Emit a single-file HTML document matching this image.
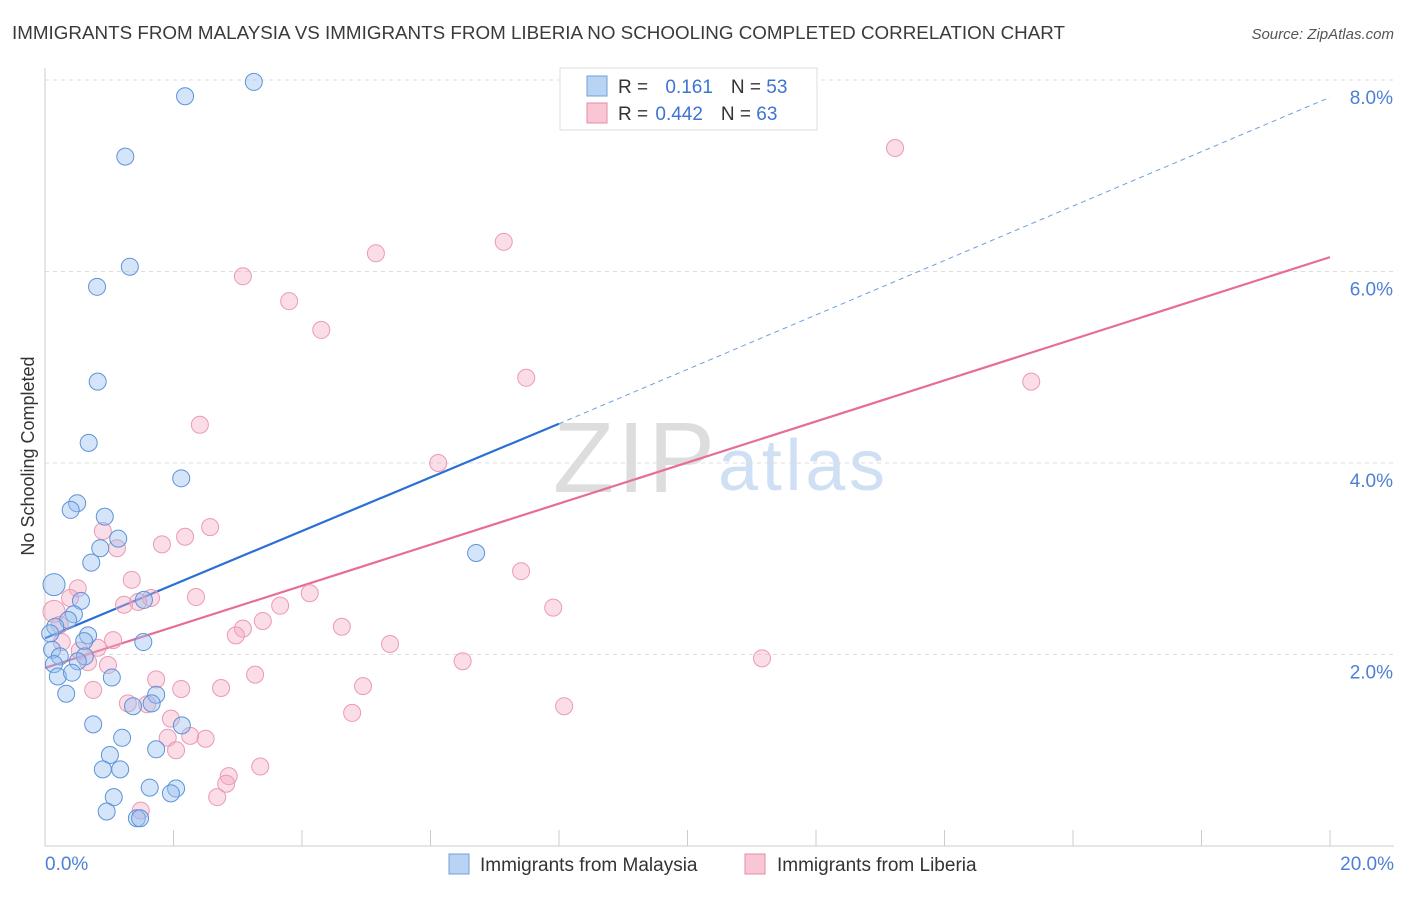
<!DOCTYPE html>
<html><head><meta charset="utf-8"><style>
body{margin:0;background:#fff;font-family:"Liberation Sans",sans-serif;}
svg text{font-family:"Liberation Sans",sans-serif;}
</style></head><body>
<svg id="chart" width="1406" height="892">
<text x="12" y="39" font-size="18" fill="#3a3a3a" textLength="1053" lengthAdjust="spacingAndGlyphs">IMMIGRANTS FROM MALAYSIA VS IMMIGRANTS FROM LIBERIA NO SCHOOLING COMPLETED CORRELATION CHART</text>
<text x="1394" y="39" font-size="15" fill="#555" font-style="italic" text-anchor="end">Source: ZipAtlas.com</text>
<text x="34" y="456" font-size="18" fill="#333" text-anchor="middle" transform="rotate(-90 34 456)">No Schooling Completed</text>
<text x="553" y="492" font-size="100" fill="#ddd" font-family="Liberation Serif" textLength="162">ZIP</text>
<text x="718" y="490" font-size="72" fill="#cfe0f4" textLength="167">atlas</text>
<g id="grid"></g><g id="lines"></g><g id="pts"></g>
<g>
<rect x="560" y="68" width="257" height="62" fill="#fff" stroke="#ddd"/>
<rect x="587" y="76" width="20" height="20" fill="#b8d3f3" stroke="#6fa0dc"/>
<rect x="587" y="103" width="20" height="20" fill="#f8c6d5" stroke="#e88aa6"/>
<text x="618" y="93" font-size="19" fill="#333">R = <tspan fill="#3c74d4" dx="12">0.161</tspan><tspan dx="18" fill="#333">N = </tspan><tspan fill="#3c74d4">53</tspan></text>
<text x="618" y="120" font-size="19" fill="#333">R = <tspan fill="#3c74d4" dx="2">0.442</tspan><tspan dx="18" fill="#333">N = </tspan><tspan fill="#3c74d4">63</tspan></text>
</g>
<g>
<rect x="449" y="854" width="20" height="20" fill="#b8d3f3" stroke="#6fa0dc"/>
<text x="480" y="871" font-size="19" fill="#333">Immigrants from Malaysia</text>
<rect x="745" y="854" width="20" height="20" fill="#f8c6d5" stroke="#e88aa6"/>
<text x="777" y="871" font-size="19" fill="#333">Immigrants from Liberia</text>
</g>
</svg>
<script>
const yTicks=[2,4,6,8];
const xTickLabels=["0.0%","20.0%"];
const blueX=[3.25,2.18,1.25,1.32,0.81,0.82,0.68,2.12,0.50,0.40,0.93,1.14,0.86,0.72,6.71,0.14,0.56,1.54,0.45,0.36,0.16,0.08,0.67,0.61,1.53,0.11,0.23,0.62,0.51,0.14,0.20,0.42,1.04,0.33,1.73,1.66,1.37,0.75,2.13,1.20,1.01,1.73,0.90,1.17,1.63,2.04,1.96,1.07,0.96,1.43,1.48];
const blueY=[7.98,7.83,7.20,6.05,5.84,4.85,4.21,3.84,3.58,3.51,3.44,3.21,3.11,2.96,3.06,2.73,2.56,2.57,2.42,2.36,2.29,2.22,2.20,2.14,2.13,2.05,1.98,1.98,1.93,1.90,1.77,1.81,1.76,1.59,1.58,1.49,1.46,1.27,1.26,1.13,0.95,1.01,0.80,0.80,0.61,0.60,0.55,0.51,0.36,0.29,0.29];
const pinkX=[13.23,7.14,5.15,3.08,3.80,4.30,15.35,7.49,2.41,6.12,2.57,0.90,2.18,1.82,1.12,7.41,1.35,0.51,2.35,4.12,7.91,1.65,1.23,1.45,3.66,0.39,0.14,3.39,4.62,3.08,2.97,1.06,5.37,0.54,0.82,0.26,6.50,11.16,0.67,0.98,3.27,1.73,0.75,2.12,2.74,4.95,1.29,1.59,8.08,4.78,1.96,1.91,2.26,2.50,2.04,3.35,2.86,2.82,2.68,1.49,0.23];
const pinkY=[7.29,6.31,6.19,5.95,5.69,5.39,4.85,4.89,4.40,4.00,3.33,3.29,3.23,3.15,3.11,2.87,2.78,2.69,2.60,2.64,2.49,2.59,2.52,2.55,2.51,2.59,2.45,2.35,2.29,2.27,2.20,2.15,2.11,2.04,2.07,2.13,1.93,1.96,1.92,1.89,1.79,1.74,1.63,1.64,1.65,1.67,1.49,1.48,1.46,1.39,1.33,1.13,1.15,1.12,1.00,0.83,0.73,0.65,0.51,0.37,2.31];
const blueLine=[2.17,4.41,7.82]; // at x=0, x=8, x=20
const pinkLine=[1.86,6.15]; // at x=0, x=20
const NS="http://www.w3.org/2000/svg";
const X=v=>45+v*64.25, Y=v=>846-v*95.75;
function mk(t,a,p){const e=document.createElementNS(NS,t);for(const k in a)e.setAttribute(k,a[k]);p.appendChild(e);return e;}
const g=document.getElementById('grid');
const ax=mk('line',{x1:45,y1:68,x2:45,y2:846,stroke:'#ccc'},g);


const bx=mk('line',{x1:45,y1:846,x2:1394,y2:846,stroke:'#ccc'},g);


yTicks.forEach(t=>{
 const l=mk('line',{x1:45,x2:1394,y1:Y(t),y2:Y(t),stroke:'#ddd','stroke-dasharray':'4 4'},g);
 
 
 const tx=mk('text',{x:1393,y:Y(t)+24,'font-size':19,fill:'#4d7fd6','text-anchor':'end'},g);
 tx.textContent=t.toFixed(1)+'%';
 
 
});
for(let i=0;i<=10;i++){
 const l=mk('line',{x1:X(i*2),x2:X(i*2),y1:830,y2:846,stroke:'#ccc'},g);
 
 
}
[[0,'start',45],[20,'end',1394]].forEach((d,i)=>{
 const tx=mk('text',{x:d[2],y:870,'font-size':19,fill:'#4d7fd6','text-anchor':d[1]},g);
 tx.textContent=xTickLabels[i];
 
 
});
const L=document.getElementById('lines');
const b1=mk('line',{x1:X(0),y1:Y(blueLine[0]),x2:X(8),y2:Y(blueLine[1]),stroke:'#2b6fd6','stroke-width':2.2},L);


const b2=mk('line',{x1:X(8),y1:Y(blueLine[1]),x2:X(20),y2:Y(blueLine[2]),stroke:'#6f9fe0','stroke-width':1,'stroke-dasharray':'5 4'},L);


const p1=mk('line',{x1:X(0),y1:Y(pinkLine[0]),x2:X(20),y2:Y(pinkLine[1]),stroke:'#e76d98','stroke-width':2.2},L);


const P=document.getElementById('pts');
pinkX.forEach((x,i)=>{
 const c=mk('circle',{cx:X(x),cy:Y(pinkY[i]),r:(x<0.2?11:8.5),fill:'rgba(245,170,195,0.4)',stroke:'#eb9ab4','stroke-width':1},P);
 
 
});
blueX.forEach((x,i)=>{
 const c=mk('circle',{cx:X(x),cy:Y(blueY[i]),r:(x<0.2&&blueY[i]>2.6?11:8.5),fill:'rgba(150,190,240,0.4)',stroke:'#5e93d8','stroke-width':1},P);
 
 
});
</script>
</body></html>
